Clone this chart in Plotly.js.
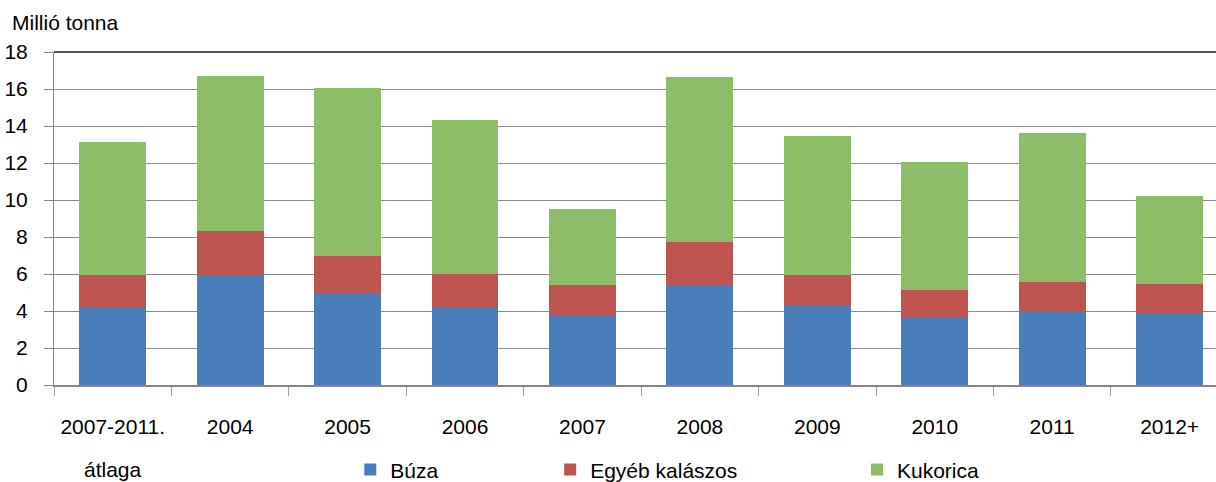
<!DOCTYPE html>
<html>
<head>
<meta charset="utf-8">
<script src="https://cdn.plot.ly/plotly-3.0.1.min.js"></script>
<style>
  body { margin: 0; background: #fff; }
  #grafikon { width: 1216px; height: 482px; }
</style>
</head>
<body>
<div id="grafikon"></div>
<script>
// Kategóriák (évek)
const categories = ['2007-2011.', '2004', '2005', '2006', '2007', '2008', '2009', '2010', '2011', '2012+'];
const elsoKategoriaAlsor = 'átlaga';

// Termés, millió tonna
const buza = [4.22, 5.95, 4.92, 4.18, 3.80, 5.43, 4.35, 3.61, 4.00, 3.86];
const egyebKalaszos = [1.73, 2.40, 2.08, 1.84, 1.63, 2.32, 1.57, 1.55, 1.59, 1.61];
const kukorica = [7.20, 8.37, 9.03, 8.28, 4.11, 8.88, 7.52, 6.92, 8.05, 4.72];

const font = 'Liberation Sans, Arial, sans-serif';

const data = [
    { x: categories, y: buza, name: 'Búza', type: 'bar', legend: 'legend',
      marker: { color: '#4a7ebb' } },
    { x: categories, y: egyebKalaszos, name: 'Egyéb kalászos', type: 'bar', legend: 'legend2',
      marker: { color: '#be5450' } },
    { x: categories, y: kukorica, name: 'Kukorica', type: 'bar', legend: 'legend3',
      marker: { color: '#8ebd67' } }
];

const legendBase = {
    orientation: 'h', yref: 'container', yanchor: 'middle', y: 0.025, xanchor: 'left',
    font: { family: font, size: 21, color: '#000' }, bgcolor: 'rgba(0,0,0,0)'
};

const layout = {
    width: 1216,
    height: 482,
    margin: { l: 54, r: 0, t: 52, b: 97 },
    barmode: 'stack',
    bargap: 0.43,
    paper_bgcolor: '#fff',
    plot_bgcolor: '#fff',
    font: { family: font, size: 21, color: '#000' },
    xaxis: {
        type: 'category',
        range: [-0.5, 9.395],
        tickson: 'boundaries',
        tickangle: 0,
        ticks: 'outside',
        ticklen: 9,
        tickcolor: '#a0a0a0',
        showline: true,
        linecolor: '#868686',
        linewidth: 2,
        showgrid: false,
        ticklabelstandoff: 22,
        tickfont: { family: font, size: 21, color: '#000' }
    },
    yaxis: {
        range: [0, 18],
        dtick: 2,
        ticks: 'outside',
        ticklen: 9,
        tickcolor: '#868686',
        showline: true,
        linecolor: '#868686',
        gridcolor: '#8c8c8c',
        zeroline: false,
        ticklabelstandoff: 12,
        tickfont: { family: font, size: 21, color: '#000' }
    },
    showlegend: true,
    legend: Object.assign({}, legendBase, { x: 0.255 }),
    legend2: Object.assign({}, legendBase, { x: 0.427 }),
    legend3: Object.assign({}, legendBase, { x: 0.691 }),
    shapes: [
        { type: 'line', xref: 'paper', yref: 'paper', x0: 0, x1: 1, y0: 1, y1: 1,
          line: { color: '#1a1a1a', width: 1.5 } }
    ],
    annotations: [
        { text: 'Millió tonna', xref: 'paper', yref: 'paper', x: -0.038, y: 1.09,
          xanchor: 'left', yanchor: 'middle', showarrow: false,
          font: { family: font, size: 21, color: '#000' } },
        // a "2007-2011." felirat második sora, nagyobb sortávval
        { text: elsoKategoriaAlsor, xref: 'x', yref: 'paper', x: categories[0], y: -0.255,
          xanchor: 'center', yanchor: 'middle', showarrow: false,
          font: { family: font, size: 21, color: '#000' } }
    ]
};

Plotly.newPlot('grafikon', data, layout, { displayModeBar: false, staticPlot: true });
</script>
</body>
</html>
